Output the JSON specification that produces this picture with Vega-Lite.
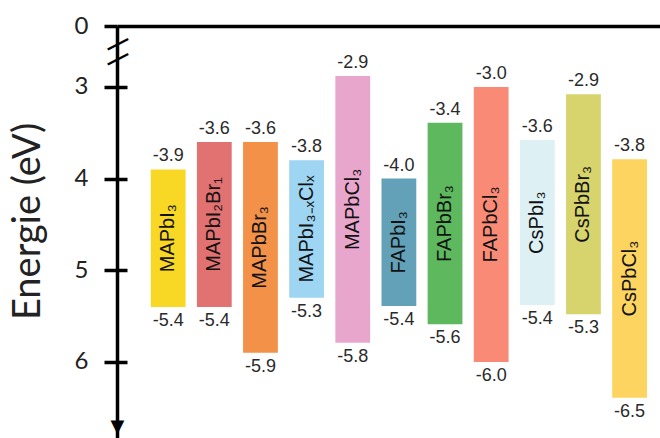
{
  "$schema": "https://vega.github.io/schema/vega-lite/v6.json",
  "width": 543,
  "height": 412,
  "autosize": {"type": "none"},
  "padding": {"left": 117, "top": 26, "right": 0, "bottom": 0},
  "background": "white",
  "config": {"view": {"stroke": null}},
  "data": {
    "values": [
      {"name": "MAPbI₃", "cb": -3.9, "vb": -5.4, "cb_label": "-3.9", "vb_label": "-5.4"},
      {"name": "MAPbI₂Br₁", "cb": -3.6, "vb": -5.4, "cb_label": "-3.6", "vb_label": "-5.4"},
      {"name": "MAPbBr₃", "cb": -3.6, "vb": -5.9, "cb_label": "-3.6", "vb_label": "-5.9"},
      {"name": "MAPbI₃₋ₓClₓ", "cb": -3.8, "vb": -5.3, "cb_label": "-3.8", "vb_label": "-5.3"},
      {"name": "MAPbCl₃", "cb": -2.88, "vb": -5.79, "cb_label": "-2.9", "vb_label": "-5.8"},
      {"name": "FAPbI₃", "cb": -4.0, "vb": -5.39, "cb_label": "-4.0", "vb_label": "-5.4"},
      {"name": "FAPbBr₃", "cb": -3.39, "vb": -5.59, "cb_label": "-3.4", "vb_label": "-5.6"},
      {"name": "FAPbCl₃", "cb": -3.0, "vb": -6.0, "cb_label": "-3.0", "vb_label": "-6.0"},
      {"name": "CsPbI₃", "cb": -3.58, "vb": -5.38, "cb_label": "-3.6", "vb_label": "-5.4"},
      {"name": "CsPbBr₃", "cb": -3.08, "vb": -5.48, "cb_label": "-2.9", "vb_label": "-5.3"},
      {"name": "CsPbCl₃", "cb": -3.79, "vb": -6.39, "cb_label": "-3.8", "vb_label": "-6.5"}
    ]
  },
  "encoding": {
    "x": {
      "field": "name",
      "type": "nominal",
      "sort": null,
      "scale": {"type": "band", "paddingInner": 0.246, "paddingOuter": 0.507, "align": 0.722},
      "axis": {
        "orient": "top",
        "title": null,
        "labels": false,
        "ticks": false,
        "domain": true,
        "domainColor": "black",
        "domainWidth": 3.5
      }
    }
  },
  "layer": [
    {
      "mark": {"type": "bar"},
      "encoding": {
        "y": {
          "field": "cb",
          "type": "quantitative",
          "scale": {"domain": [-6.83, -2.335], "nice": false, "zero": false},
          "axis": {
            "orient": "left",
            "title": "Energie (eV)",
            "titleFont": "Lato",
            "titleFontSize": 38,
            "titleFontWeight": "normal",
            "titleColor": "#222222",
            "titlePadding": 27,
            "titleY": 195,
            "values": [-2.335, -3, -4, -5, -6, -6.7],
            "labelExpr": "datum.value > -2.5 ? '0' : datum.value < -6.5 ? '▼' : format(-datum.value, '.0f')",
            "labelFont": {"condition": {"test": "datum.value < -6.5", "value": "DejaVu Sans"}, "value": "Lato"},
            "labelFontSize": {"condition": {"test": "datum.value < -6.5", "value": 18}, "value": 24},
            "labelColor": {"condition": {"test": "datum.value < -6.5", "value": "black"}, "value": "#222222"},
            "labelAlign": {"condition": {"test": "datum.value < -6.5", "value": "center"}, "value": "right"},
            "labelPadding": {"condition": {"test": "datum.value < -6.5", "value": -13}, "value": 16},
            "labelBaseline": "middle",
            "labelOverlap": false,
            "labelFlush": false,
            "labelBound": false,
            "tickSize": 13,
            "tickWidth": 3.5,
            "tickColor": "black",
            "tickOpacity": {"condition": {"test": "datum.value < -6.5", "value": 0}, "value": 1},
            "domainColor": "black",
            "domainWidth": 3.5,
            "grid": false
          }
        },
        "y2": {"field": "vb"},
        "color": {
          "field": "name",
          "type": "nominal",
          "sort": null,
          "legend": null,
          "scale": {
            "range": ["#F8D824", "#E27272", "#F39149", "#9DD5F2", "#E9A6CC", "#62A1B8", "#5DB85E", "#F98B76", "#DDF0F4", "#D7D46E", "#FDD45F"]
          }
        }
      }
    },
    {
      "mark": {"type": "text", "baseline": "bottom", "dy": -4, "font": "Liberation Sans", "fontSize": 18, "color": "#2a2a2a"},
      "encoding": {
        "y": {
          "field": "cb",
          "type": "quantitative",
          "scale": {"domain": [-6.83, -2.335], "nice": false, "zero": false},
          "axis": {
            "orient": "right",
            "offset": -543,
            "title": null,
            "domain": false,
            "grid": false,
            "values": [-2.52, -2.685, -3, -4, -5, -6],
            "tickSize": 10,
            "tickWidth": 3.5,
            "tickColor": "black",
            "tickOpacity": {"condition": {"test": "datum.value > -2.8", "value": 0}, "value": 1},
            "labelExpr": "datum.value > -2.8 ? '—' : ''",
            "labelAngle": -27,
            "labelAlign": "center",
            "labelBaseline": "middle",
            "labelPadding": -10,
            "labelFont": "Liberation Sans",
            "labelFontSize": 23,
            "labelFontWeight": "bold",
            "labelColor": "black",
            "labelOverlap": false,
            "labelBound": false,
            "labelFlush": false
          }
        },
        "text": {"field": "cb_label"}
      }
    },
    {
      "mark": {"type": "text", "baseline": "top", "dy": 5, "font": "Liberation Sans", "fontSize": 18, "color": "#2a2a2a"},
      "encoding": {
        "y": {
          "field": "vb",
          "type": "quantitative",
          "scale": {"domain": [-6.83, -2.335], "nice": false, "zero": false},
          "axis": null
        },
        "text": {"field": "vb_label"}
      }
    },
    {
      "transform": [{"calculate": "(datum.cb + datum.vb) / 2", "as": "mid"}],
      "mark": {"type": "text", "angle": 270, "align": "center", "baseline": "middle", "font": "Liberation Sans", "fontSize": 20, "color": "#111111"},
      "encoding": {
        "y": {
          "field": "mid",
          "type": "quantitative",
          "scale": {"domain": [-6.83, -2.335], "nice": false, "zero": false},
          "axis": null
        },
        "text": {"field": "name"}
      }
    }
  ],
  "resolve": {"axis": {"y": "independent"}}
}
